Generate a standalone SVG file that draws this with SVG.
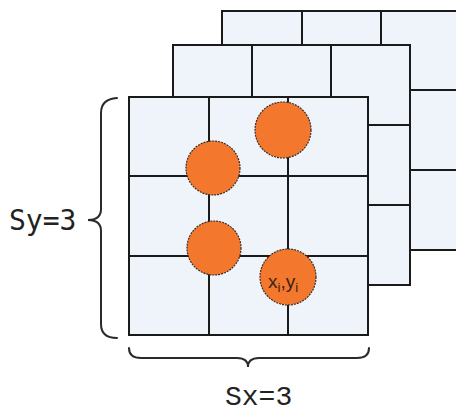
<svg xmlns="http://www.w3.org/2000/svg" width="456" height="412" viewBox="0 0 456 412">
<style>
.cell{fill:#EFF4FB;stroke:#1a1a1a;stroke-width:2}
.ln{stroke:#1a1a1a;stroke-width:2;fill:none}
.dot{fill:#F4772E;stroke:#3a2a20;stroke-width:1.2;stroke-dasharray:2 1}
.brace{fill:none;stroke:#2a2a2a;stroke-width:2;stroke-linecap:round}
</style>
<rect width="456" height="412" fill="#fff"/>
<g id="grid-back">
<rect class="cell" x="222" y="11" width="240" height="239"/>
<path class="ln" d="M302,11V250M381,11V250M222,90H462M222,170H462"/>
</g>
<g id="grid-middle">
<rect class="cell" x="173" y="45" width="237" height="240"/>
<path class="ln" d="M252,45V285M331,45V285M173,125H410M173,205H410"/>
</g>
<g id="grid-front">
<rect class="cell" x="129" y="97" width="239" height="238"/>
<path class="ln" d="M209,97V335M288,97V335M129,176H368M129,256H368"/>
</g>
<g id="circle-1"><circle class="dot" cx="283" cy="130" r="28"/></g>
<g id="circle-2"><circle class="dot" cx="213" cy="168" r="27"/></g>
<g id="circle-3"><circle class="dot" cx="214" cy="248" r="27"/></g>
<g id="circle-4"><circle class="dot" cx="288" cy="277" r="28"/>
<text font-family="Liberation Sans, sans-serif" font-size="19" fill="#3a2418" x="268" y="288">x<tspan font-size="13" dy="4">i</tspan><tspan dy="-4">,y</tspan><tspan font-size="13" dy="4">i</tspan></text></g>
<g id="brace-y">
<path class="brace" d="M117,98 Q101,99 101,113 L101,209 Q101,220 88,220 Q101,220 101,231 L101,324 Q101,338 117,338"/>
<text font-family="monospace" font-size="28" fill="#222" x="9" y="230">Sy=3</text>
</g>
<g id="brace-x">
<path class="brace" d="M129,348 Q129,358 141,358 L237,358 Q248,358 248,367 Q248,358 259,358 L357,358 Q369,358 369,348"/>
<text font-family="Courier New, Liberation Mono, monospace" font-size="28" fill="#222" x="225" y="405">Sx=3</text>
</g>
</svg>
